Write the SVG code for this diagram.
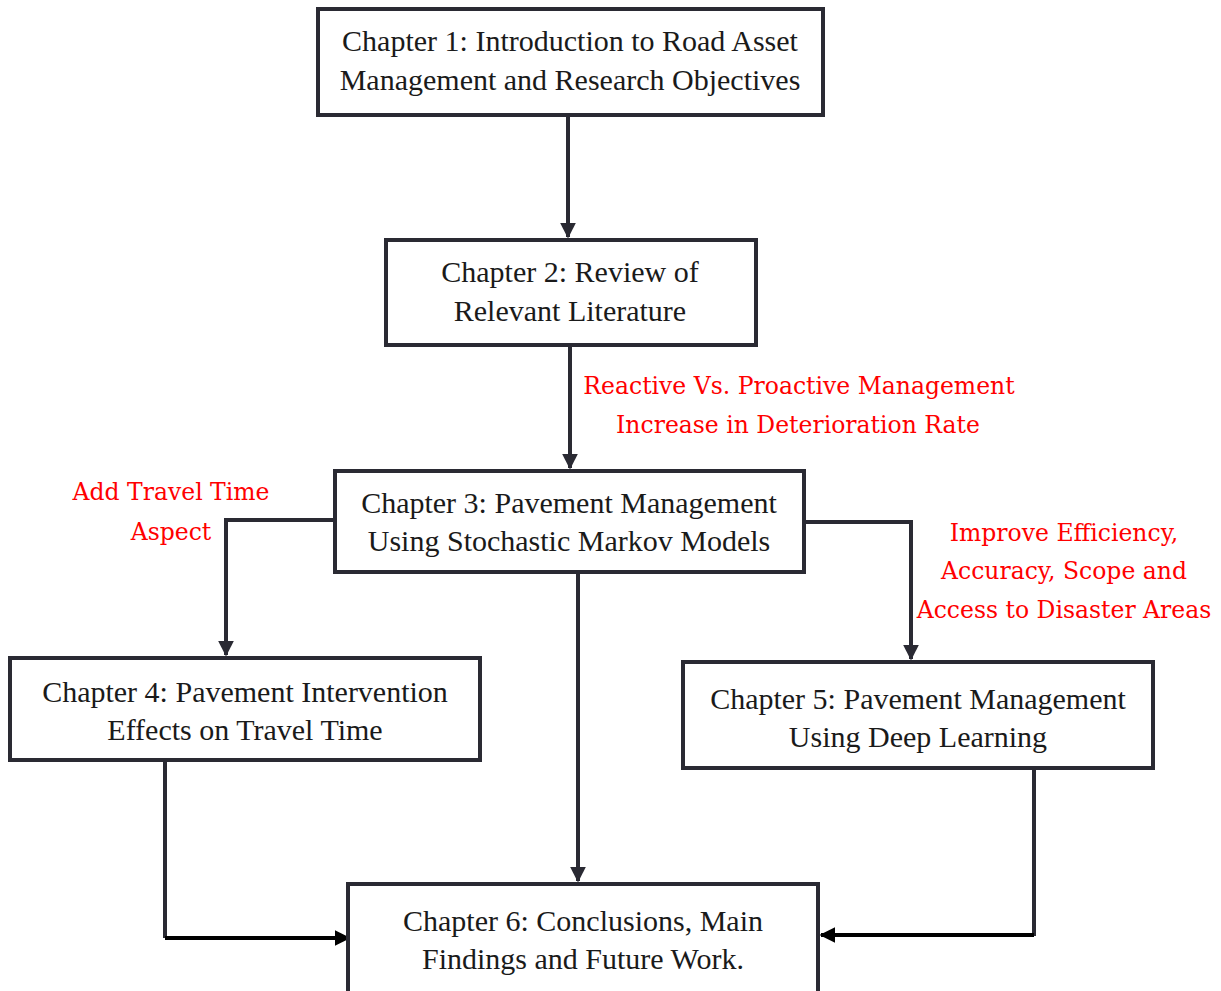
<svg xmlns="http://www.w3.org/2000/svg" width="1221" height="991" viewBox="0 0 1221 991">
  <style>
    .box { fill: #ffffff; stroke: #2a2a33; stroke-width: 4; }
    .t { font-family: "Liberation Serif", "Times New Roman", serif; font-size: 30px; fill: #1a1a1a; text-anchor: middle; }
    .note { font-family: "DejaVu Serif", "Liberation Serif", serif; font-size: 23.5px; fill: #ff0000; text-anchor: middle; }
    .line { fill: none; stroke: #2a2a33; stroke-width: 4; }
    .line2 { fill: none; stroke: #000000; stroke-width: 4; }
  </style>
  <defs>
    <marker id="arrow" viewBox="0 0 10 10" refX="9" refY="5" markerWidth="4" markerHeight="4" orient="auto" markerUnits="strokeWidth">
      <path d="M0,0 L10,5 L0,10 z" fill="#2a2a33"/>
    </marker>
    <marker id="arrowK" viewBox="0 0 10 10" refX="9" refY="5" markerWidth="4" markerHeight="4" orient="auto" markerUnits="strokeWidth">
      <path d="M0,0 L10,5 L0,10 z" fill="#000000"/>
    </marker>
  </defs>
  <rect width="1221" height="991" fill="#ffffff"/>

  <g id="connectors">
    <path class="line" d="M568,116 V237" marker-end="url(#arrow)"/>
    <path class="line" d="M570,346 V468" marker-end="url(#arrow)"/>
    <path class="line" d="M334,520 H226 V655" marker-end="url(#arrow)"/>
    <path class="line" d="M805,522 H911 V659" marker-end="url(#arrow)"/>
    <path class="line" d="M578,573 V881" marker-end="url(#arrow)"/>
    <path class="line" d="M165,761 V938"/>
    <path class="line2" d="M165,938 H349" marker-end="url(#arrowK)"/>
    <path class="line" d="M1034,769 V936"/>
    <path class="line2" d="M1034,935 H821" marker-end="url(#arrowK)"/>
  </g>

  <g id="node1">
    <rect class="box" x="318" y="9" width="505" height="106"/>
    <text class="t" x="570" y="51">Chapter 1: Introduction to Road Asset</text>
    <text class="t" x="570" y="90">Management and Research Objectives</text>
  </g>
  <g id="node2">
    <rect class="box" x="386" y="240" width="370" height="105"/>
    <text class="t" x="570" y="282">Chapter 2: Review of</text>
    <text class="t" x="570" y="321">Relevant Literature</text>
  </g>
  <g id="node3">
    <rect class="box" x="335" y="471" width="469" height="101"/>
    <text class="t" x="569" y="513">Chapter 3: Pavement Management</text>
    <text class="t" x="569" y="551">Using Stochastic Markov Models</text>
  </g>
  <g id="node4">
    <rect class="box" x="10" y="658" width="470" height="102"/>
    <text class="t" x="245" y="702">Chapter 4: Pavement Intervention</text>
    <text class="t" x="245" y="740">Effects on Travel Time</text>
  </g>
  <g id="node5">
    <rect class="box" x="683" y="662" width="470" height="106"/>
    <text class="t" x="918" y="709">Chapter 5: Pavement Management</text>
    <text class="t" x="918" y="747">Using Deep Learning</text>
  </g>
  <g id="node6">
    <rect class="box" x="348" y="884" width="470" height="112"/>
    <text class="t" x="583" y="931">Chapter 6: Conclusions, Main</text>
    <text class="t" x="583" y="969">Findings and Future Work.</text>
  </g>

  <g id="labels">
    <text class="note" x="799" y="394">Reactive Vs. Proactive Management</text>
    <text class="note" x="798" y="433">Increase in Deterioration Rate</text>
    <text class="note" x="171" y="500">Add Travel Time</text>
    <text class="note" x="171" y="540">Aspect</text>
    <text class="note" x="1064" y="541">Improve Efficiency,</text>
    <text class="note" x="1064" y="579">Accuracy, Scope and</text>
    <text class="note" x="1064" y="618">Access to Disaster Areas</text>
  </g>
</svg>
